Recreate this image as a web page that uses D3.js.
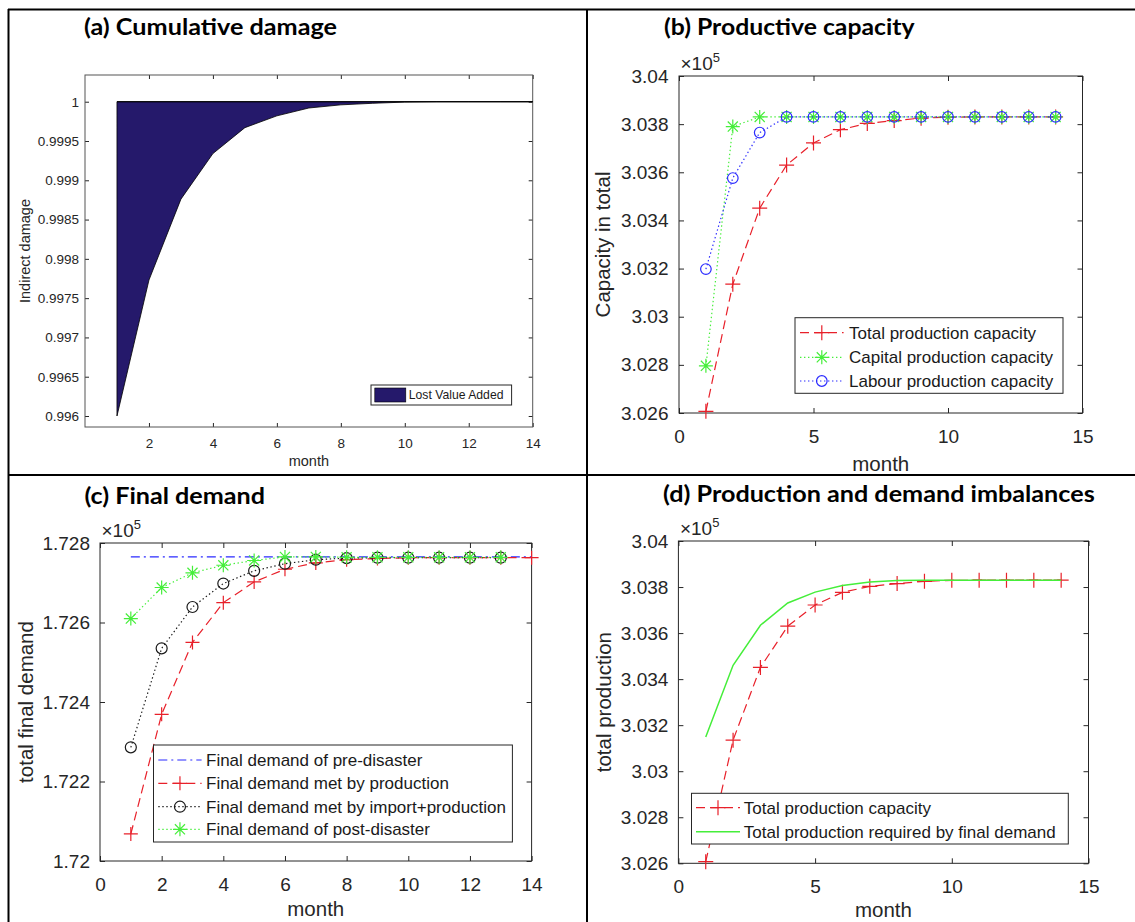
<!DOCTYPE html>
<html>
<head>
<meta charset="utf-8">
<script src="https://cdn.jsdelivr.net/npm/d3@7/dist/d3.min.js"></script>
<style>
  body { margin: 0; background: #fff; }
  text { font-family: "Liberation Sans", Arial, sans-serif; }
</style>
</head>
<body>
<div id="chart"></div>
<script>
// months on the x axis
var months = [1, 2, 3, 4, 5, 6, 7, 8, 9, 10, 11, 12, 13, 14];
var months13 = [1, 2, 3, 4, 5, 6, 7, 8, 9, 10, 11, 12, 13];

// (a) cumulative damage ratio
var lostValueAdded = [0.99600, 0.99773, 0.99876, 0.99934, 0.99967, 0.99982, 0.99992, 0.99996, 0.99998, 0.999995, 1, 1, 1, 1];

// (b) + (d) productive capacity
var totalCapacity = [302607, 303135, 303451, 303630, 303722, 303777, 303803, 303815, 303825, 303829, 303830, 303830, 303830, 303830];
var capitalCapacity = [302796, 303790, 303830, 303830, 303830, 303830, 303830, 303830, 303830, 303830, 303830, 303830, 303830, 303830];
var labourCapacity = [303198, 303576, 303765, 303830, 303830, 303830, 303830, 303830, 303830, 303830, 303830, 303830, 303830, 303830];
var requiredProduction = [303149, 303460, 303634, 303731, 303778, 303807, 303822, 303828, 303830, 303830, 303830, 303830, 303830, 303830];

// (c) final demand
var preDisasterDemand = [172765, 172765, 172765, 172765, 172765, 172765, 172765, 172765, 172765, 172765, 172765, 172765, 172765, 172765];
var demandMetProduction = [172068, 172369, 172550, 172650, 172702, 172734, 172750, 172758, 172761, 172763, 172763, 172763, 172763, 172763];
var demandMetImport = [172286, 172535, 172639, 172698, 172730, 172748, 172758, 172762, 172763, 172763, 172763, 172763, 172763];
var postDisasterDemand = [172610, 172688, 172725, 172744, 172756, 172765, 172765, 172764, 172764, 172764, 172764, 172764, 172764];

// tick values
var ticksAx = [2, 4, 6, 8, 10, 12, 14];
var ticksAy = [0.996, 0.9965, 0.997, 0.9975, 0.998, 0.9985, 0.999, 0.9995, 1];
var ticks15 = [0, 5, 10, 15];
var ticks14 = [0, 2, 4, 6, 8, 10, 12, 14];
var ticksCap = [302600, 302800, 303000, 303200, 303400, 303600, 303800, 304000];
var ticksDem = [172000, 172200, 172400, 172600, 172800];

var RED = "#e8202a", GREEN = "#45ee3a", BLUE = "#2b2bff", BLACK = "#1a1a1a";
var AXIS = "#262626";

var svg = d3.select("#chart").append("svg").attr("width", 1135).attr("height", 922);

var fmt1e5 = function (v) { return d3.format(".3~f")(v / 1e5); };

function makePanel(p) {
  var x = d3.scaleLinear().domain(p.xDomain).range([p.left, p.right]);
  var y = d3.scaleLinear().domain(p.yDomain).range([p.bottom, p.top]);
  var g = svg.append("g");

  var ax = g.append("g").attr("transform", "translate(0," + p.bottom + ")")
    .call(d3.axisBottom(x).tickValues(p.xTicks).tickSizeInner(-p.tick).tickSizeOuter(0).tickPadding(p.xPad));
  var ay = g.append("g").attr("transform", "translate(" + p.left + ",0)")
    .call(d3.axisLeft(y).tickValues(p.yTicks).tickSizeInner(-p.tick).tickSizeOuter(0).tickPadding(p.yPad).tickFormat(p.yFormat));
  g.append("g").attr("transform", "translate(0," + p.top + ")")
    .call(d3.axisTop(x).tickValues(p.xTicks).tickSizeInner(-p.tick).tickSizeOuter(0).tickFormat(""));
  g.append("g").attr("transform", "translate(" + p.right + ",0)")
    .call(d3.axisRight(y).tickValues(p.yTicks).tickSizeInner(-p.tick).tickSizeOuter(0).tickFormat(""));

  g.selectAll(".domain").remove();
  g.selectAll(".tick line").attr("stroke", AXIS);
  [ax, ay].forEach(function (a) {
    a.attr("font-family", null).attr("font-size", p.tickFont);
    a.selectAll("text").attr("fill", "#262626");
  });

  g.append("rect")
    .attr("x", p.left).attr("y", p.top)
    .attr("width", p.right - p.left).attr("height", p.bottom - p.top)
    .attr("fill", "none").attr("stroke", p.boxColor || AXIS).attr("stroke-width", 1);

  // axis labels
  g.append("text").attr("x", (p.left + p.right) / 2).attr("y", p.xLabelY)
    .attr("text-anchor", "middle").attr("font-size", p.labelFont).attr("fill", "#262626")
    .text("month");
  g.append("text")
    .attr("transform", "translate(" + p.yLabelX + "," + ((p.top + p.bottom) / 2) + ") rotate(-90)")
    .attr("text-anchor", "middle").attr("font-size", p.labelFont).attr("fill", "#262626")
    .text(p.yLabel);

  if (p.exponent) {
    var e = g.append("text").attr("x", p.left + 1.5).attr("y", p.top - 6)
      .attr("font-size", 19).attr("fill", "#262626");
    e.append("tspan").text("\u00d710");
    e.append("tspan").attr("font-size", 13).attr("dy", -8).text("5");
  }

  svg.append("text").attr("x", p.titleX).attr("y", p.titleY)
    .attr("font-weight", "bold")
    .attr("font-size", 22).attr("textLength", p.titleW).attr("lengthAdjust", "spacingAndGlyphs")
    .style("font-family", "Lato, 'Open Sans', sans-serif")
    .text(p.title);

  return { x: x, y: y, g: g };
}

function markerPath(type, s) {
  if (type === "plus") return "M" + (-s) + ",0H" + s + "M0," + (-s) + "V" + s;
  if (type === "star") {
    var d = s * 0.72;
    return "M" + (-s) + ",0H" + s + "M0," + (-s) + "V" + s +
      "M" + (-d) + "," + (-d) + "L" + d + "," + d + "M" + (-d) + "," + d + "L" + d + "," + (-d);
  }
  if (type === "circle") return "M" + s + ",0A" + s + "," + s + " 0 1,1 " + (-s) + ",0A" + s + "," + s + " 0 1,1 " + s + ",0";
  return "";
}

function drawSeries(P, xs, ys, st) {
  var pts = xs.map(function (d, i) { return [d, ys[i]]; });
  P.g.append("path").datum(pts)
    .attr("fill", "none").attr("stroke", st.color).attr("stroke-width", st.width || 1.2)
    .attr("stroke-dasharray", st.dash || null)
    .attr("d", d3.line().x(function (d) { return P.x(d[0]); }).y(function (d) { return P.y(d[1]); }));
  if (st.marker) {
    P.g.selectAll(null).data(pts).enter().append("path")
      .attr("transform", function (d) { return "translate(" + P.x(d[0]) + "," + P.y(d[1]) + ")"; })
      .attr("d", markerPath(st.marker, st.size))
      .attr("fill", "none").attr("stroke", st.color).attr("stroke-width", 1.2);
  }
}

function drawLegend(box, rows, font) {
  var g = svg.append("g");
  g.append("rect").attr("x", box.x0).attr("y", box.y0)
    .attr("width", box.x1 - box.x0).attr("height", box.y1 - box.y0)
    .attr("fill", "#fff").attr("stroke", "#262626").attr("stroke-width", 1);
  rows.forEach(function (r, i) {
    var ry = box.rows[i];
    if (r.patch) {
      g.append("rect").attr("x", box.s0).attr("y", ry - 7).attr("width", box.s1 - box.s0).attr("height", 14)
        .attr("fill", r.patch).attr("stroke", "#000").attr("stroke-width", 0.6);
    } else {
      g.append("line").attr("x1", box.s0).attr("x2", box.s1).attr("y1", ry).attr("y2", ry)
        .attr("stroke", r.color).attr("stroke-width", r.width || 1.2).attr("stroke-dasharray", r.dash || null);
      if (r.marker) {
        g.append("path").attr("transform", "translate(" + ((box.s0 + box.s1) / 2) + "," + ry + ")")
          .attr("d", markerPath(r.marker, r.size)).attr("fill", "none")
          .attr("stroke", r.color).attr("stroke-width", 1.2);
      }
    }
    g.append("text").attr("x", box.tx).attr("y", ry).attr("dy", "0.35em")
      .attr("font-size", font).attr("fill", "#1a1a1a").text(r.label);
  });
}

var DASH = "9,5", DOT = "1.4,2.6", DASHDOT = "9,4,2,4";

// (a) Cumulative damage
var A = makePanel({
  left: 85, right: 532.7, top: 75, bottom: 427,
  xDomain: [0, 14], yDomain: [0.99586, 1.00034],
  xTicks: ticksAx, yTicks: ticksAy, yFormat: d3.format(".4~f"),
  tick: 4, xPad: 11, yPad: 6, tickFont: 13.5, labelFont: 14.5,
  xLabelY: 466, yLabelX: 30, yLabel: "Indirect damage", boxColor: "#555",
  title: "(a) Cumulative damage", titleX: 84, titleY: 35, titleW: 253
});
A.g.append("path").datum(months)
  .attr("fill", "#25196b").attr("stroke", "#000").attr("stroke-width", 0.8)
  .attr("d", d3.area()
    .x(function (d) { return A.x(d); })
    .y0(A.y(1))
    .y1(function (d, i) { return A.y(lostValueAdded[i]); }));
A.g.append("line").attr("x1", A.x(1)).attr("x2", A.x(14)).attr("y1", A.y(1)).attr("y2", A.y(1))
  .attr("stroke", "#000").attr("stroke-width", 1);
drawLegend({ x0: 371, x1: 511.6, y0: 385, y1: 405, s0: 374.8, s1: 405.8, tx: 408.8, rows: [395] },
  [{ label: "Lost Value Added", patch: "#25196b" }], 12.2);

// (b) Productive capacity
var B = makePanel({
  left: 679, right: 1082.5, top: 76, bottom: 413,
  xDomain: [0, 15], yDomain: [302600, 304000],
  xTicks: ticks15, yTicks: ticksCap, yFormat: fmt1e5,
  tick: 5, xPad: 16.5, yPad: 10.5, tickFont: 19, labelFont: 20.5,
  xLabelY: 470.5, yLabelX: 609.5, yLabel: "Capacity in total", exponent: true,
  title: "(b) Productive capacity", titleX: 664, titleY: 34.5, titleW: 250.5
});
drawSeries(B, months, totalCapacity, { color: RED, dash: DASH, marker: "plus", size: 7.5 });
drawSeries(B, months, capitalCapacity, { color: GREEN, dash: DOT, marker: "star", size: 7 });
drawSeries(B, months, labourCapacity, { color: BLUE, dash: DOT, marker: "circle", size: 5.3 });
drawLegend({ x0: 795, x1: 1063, y0: 317.7, y1: 393.3, s0: 800, s1: 843.6, tx: 849, rows: [332.7, 357.3, 381] },
  [{ label: "Total production capacity", color: RED, dash: DASH, marker: "plus", size: 7.5 },
   { label: "Capital production capacity", color: GREEN, dash: DOT, marker: "star", size: 7 },
   { label: "Labour production capacity", color: BLUE, dash: DOT, marker: "circle", size: 5.3 }], 17);

// (c) Final demand
var C = makePanel({
  left: 100, right: 531.6, top: 543, bottom: 861,
  xDomain: [0, 14], yDomain: [172000, 172800],
  xTicks: ticks14, yTicks: ticksDem, yFormat: fmt1e5,
  tick: 5, xPad: 16.5, yPad: 10, tickFont: 19, labelFont: 20.5,
  xLabelY: 916, yLabelX: 33, yLabel: "total final demand", exponent: true,
  title: "(c) Final demand", titleX: 84.4, titleY: 504, titleW: 180.6
});
drawSeries(C, months, preDisasterDemand, { color: BLUE, dash: DASHDOT });
drawSeries(C, months, demandMetProduction, { color: RED, dash: DASH, marker: "plus", size: 7 });
drawSeries(C, months13, demandMetImport, { color: BLACK, dash: DOT, marker: "circle", size: 5.5 });
drawSeries(C, months13, postDisasterDemand, { color: GREEN, dash: DOT, marker: "star", size: 7 });
drawLegend({ x0: 153.5, x1: 512.4, y0: 745, y1: 842, s0: 158.3, s1: 201.6, tx: 206, rows: [760, 783.3, 806.7, 829.3] },
  [{ label: "Final demand of pre-disaster", color: BLUE, dash: DASHDOT },
   { label: "Final demand met by production", color: RED, dash: DASH, marker: "plus", size: 7 },
   { label: "Final demand met by import+production", color: BLACK, dash: DOT, marker: "circle", size: 5.5 },
   { label: "Final demand of post-disaster", color: GREEN, dash: DOT, marker: "star", size: 7 }], 17);

// (d) Production and demand imbalances
var D = makePanel({
  left: 678.4, right: 1088.5, top: 541, bottom: 863.3,
  xDomain: [0, 15], yDomain: [302600, 304000],
  xTicks: ticks15, yTicks: ticksCap, yFormat: fmt1e5,
  tick: 5, xPad: 16, yPad: 10, tickFont: 19, labelFont: 20.5,
  xLabelY: 916.5, yLabelX: 611, yLabel: "total production", exponent: true,
  title: "(d) Production and demand imbalances", titleX: 663, titleY: 502, titleW: 431.7
});
drawSeries(D, months, totalCapacity, { color: RED, dash: DASH, marker: "plus", size: 7.5 });
drawSeries(D, months, requiredProduction, { color: GREEN, width: 1.5 });
drawLegend({ x0: 691.5, x1: 1068.3, y0: 793.3, y1: 844, s0: 696, s1: 740, tx: 743.8, rows: [807.7, 831.7] },
  [{ label: "Total production capacity", color: RED, dash: DASH, marker: "plus", size: 7.5 },
   { label: "Total production required by final demand", color: GREEN, width: 1.5 }], 17);

// figure frame
var frame = svg.append("g").attr("stroke", "#000").attr("stroke-width", 2);
frame.append("line").attr("x1", 8).attr("x2", 1135).attr("y1", 9.5).attr("y2", 9.5);
frame.append("line").attr("x1", 8).attr("x2", 1135).attr("y1", 475).attr("y2", 475);
frame.append("line").attr("x1", 8.5).attr("x2", 8.5).attr("y1", 9).attr("y2", 922);
frame.append("line").attr("x1", 587).attr("x2", 587).attr("y1", 9).attr("y2", 922);
</script>
</body>
</html>
